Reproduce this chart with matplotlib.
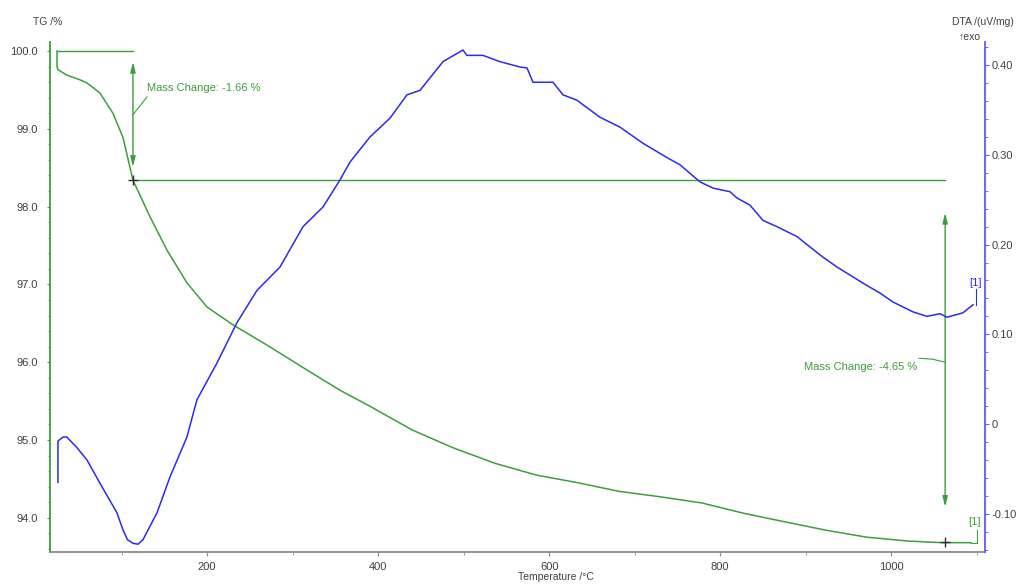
import matplotlib
matplotlib.use("Agg")
import matplotlib.pyplot as plt
from matplotlib.ticker import MultipleLocator, FuncFormatter

plt.rcParams["font.family"] = ["Liberation Sans", "DejaVu Sans"]

# TG curve (mass %, left axis)
tg_temp = [24.6, 24.6, 25.7, 36.2, 51.4, 59.6, 74.8, 90.0, 101.7, 113.4, 133.3, 153.2,
           176.5, 199.9, 230.3, 270.1, 316.8, 355.4, 391.1, 439.6, 487.6, 536.7, 584.6,
           633.7, 681.6, 729.6, 778.7, 826.6, 874.6, 923.7, 971.6, 1020.7, 1059.3, 1093.2]
tg_mass = [100.0, 99.80, 99.76, 99.69, 99.63, 99.59, 99.46, 99.20, 98.89, 98.34, 97.87, 97.44,
           97.02, 96.71, 96.48, 96.22, 95.90, 95.64, 95.43, 95.13, 94.90, 94.70, 94.55,
           94.45, 94.34, 94.27, 94.19, 94.06, 93.95, 93.84, 93.75, 93.70, 93.68, 93.68]

# DTA curve (uV/mg, right axis)
dta_temp = [25.7, 25.7, 31.6, 36.0, 47.6, 59.6, 74.8, 94.7, 101.7, 107.0, 113.4, 119.3, 125.1,
            141.5, 156.7, 176.5, 188.2, 211.6, 235.0, 258.4, 285.3, 312.2, 335.6, 355.4, 367.1,
            390.5, 413.9, 433.8, 449.0, 475.9, 499.2, 503.9, 522.6, 542.5, 565.9, 574.1, 581.1,
            604.5, 616.2, 632.5, 659.4, 682.8, 709.7, 737.8, 753.0, 776.3, 791.5, 811.4, 819.6,
            834.8, 850.0, 866.4, 889.8, 901.5, 920.2, 936.6, 955.3, 967.0, 986.8, 1002.0,
            1025.4, 1041.8, 1057.0, 1065.2, 1083.9, 1095.6]
dta_val = [-0.065, -0.019, -0.0145, -0.0145, -0.026, -0.040, -0.066, -0.099, -0.118, -0.129,
           -0.133, -0.134, -0.129, -0.099, -0.059, -0.0145, 0.027, 0.068, 0.113, 0.149, 0.175,
           0.220, 0.242, 0.272, 0.292, 0.320, 0.341, 0.367, 0.372, 0.404, 0.417, 0.411, 0.411,
           0.404, 0.398, 0.397, 0.381, 0.381, 0.367, 0.361, 0.342, 0.331, 0.313, 0.297, 0.289,
           0.270, 0.263, 0.259, 0.252, 0.244, 0.227, 0.220, 0.209, 0.200, 0.186, 0.175, 0.164,
           0.157, 0.146, 0.136, 0.125, 0.120, 0.123, 0.119, 0.124, 0.133]

# mass change steps
step1_temp = 113.4
step1_from, step1_to = 100.0, 98.34
step1_label = "Mass Change: -1.66 %"
step2_temp = 1063.0
step2_from, step2_to = 98.34, 93.69
step2_label = "Mass Change: -4.65 %"

GREEN = "#3c9e3c"
BLUE = "#2a2af0"
TXT = "#404040"

fig = plt.figure(figsize=(10.19, 5.84), dpi=100)
ax = fig.add_axes([50 / 1019, 32 / 584, 935 / 1019, 510 / 584])
ax2 = ax.twinx()

ax.plot(tg_temp, tg_mass, color=GREEN, lw=1.1, zorder=3)
ax2.plot(dta_temp, dta_val, color=BLUE, lw=1.1, zorder=3)

ax.set_xlim(16.4, 1109.6)
ax.set_ylim(93.56, 100.116)
ax2.set_ylim(-0.1427, 0.4259)

# spines
for s in ["top", "right"]:
    ax.spines[s].set_visible(False)
ax.spines["left"].set_color(GREEN)
ax.spines["left"].set_linewidth(1.3)
ax.spines["bottom"].set_color("#8a8a8a")
ax.spines["bottom"].set_linewidth(1.3)
for s in ["top", "left", "bottom"]:
    ax2.spines[s].set_visible(False)
ax2.spines["right"].set_color("#5a5aff")
ax2.spines["right"].set_linewidth(1.3)

# ticks
ax.xaxis.set_major_locator(MultipleLocator(200))
ax.xaxis.set_minor_locator(MultipleLocator(100))
ax.yaxis.set_major_locator(MultipleLocator(1.0))
ax.yaxis.set_minor_locator(MultipleLocator(0.2))
ax.yaxis.set_major_formatter(FuncFormatter(lambda v, p: f"{v:.1f}"))
ax.xaxis.set_major_formatter(FuncFormatter(lambda v, p: f"{v:.0f}" if v > 100 else ""))
ax2.yaxis.set_major_locator(MultipleLocator(0.1))
ax2.yaxis.set_minor_locator(MultipleLocator(0.02))
ax2.yaxis.set_major_formatter(
    FuncFormatter(lambda v, p: "0" if abs(v) < 1e-9 else f"{v:.2f}"))

ax.tick_params(axis="y", which="major", length=2.5, color=GREEN, labelsize=8,
               labelcolor=TXT, pad=6)
ax.tick_params(axis="y", which="minor", length=1.8, color=GREEN)
ax.tick_params(axis="x", which="major", length=3, color="#8a8a8a", labelsize=8,
               labelcolor=TXT, pad=4)
ax.tick_params(axis="x", which="minor", length=2.2, color="#8a8a8a")
ax2.tick_params(axis="y", which="major", length=3, color="#5a5aff", labelsize=8,
                labelcolor=TXT, pad=2)
ax2.tick_params(axis="y", which="minor", length=1.8, color="#5a5aff")

# step 1 annotation
ax.plot([tg_temp[0], step1_temp], [step1_from, step1_from], color=GREEN, lw=1.0)
ax.annotate("", xy=(step1_temp, 98.51), xytext=(step1_temp, 99.86),
            arrowprops=dict(arrowstyle="<|-|>,head_length=0.6,head_width=0.15",
                            color=GREEN, lw=1.0, shrinkA=0, shrinkB=0))
ax.plot([step1_temp, step2_temp], [step1_to, step1_to], color=GREEN, lw=1.0)
ax.plot([step1_temp, 129.8], [99.18, 99.41], color=GREEN, lw=0.8)
ax.text(129.8, 99.52, step1_label, color=GREEN, fontsize=8, va="center", ha="left")

# step 2 annotation
ax.annotate("", xy=(step2_temp, 94.14), xytext=(step2_temp, 97.92),
            arrowprops=dict(arrowstyle="<|-|>,head_length=0.6,head_width=0.15",
                            color=GREEN, lw=1.0, shrinkA=0, shrinkB=0))
ax.plot([1032.4, 1047.6, step2_temp], [96.05, 96.04, 96.00], color=GREEN, lw=0.8)
ax.text(1030, 95.94, step2_label, color=GREEN, fontsize=8, va="center", ha="right")

# step markers
ax.plot([step1_temp, step2_temp], [step1_to, step2_to], marker="+", ls="none",
        color="#303030", ms=7, mew=1.0, zorder=4)

# curve end labels
ax.plot([tg_temp[-1], 1100, 1100], [93.676, 93.676, 93.84], color=GREEN, lw=0.8)
ax.text(1097, 93.95, "[1]", color=GREEN, fontsize=8, ha="center", va="center")
ax2.plot([1099, 1099], [0.133, 0.150], color=BLUE, lw=0.8)
ax2.text(1098, 0.157, "[1]", color=BLUE, fontsize=8, ha="center", va="center")

# axis titles
fig.text(48 / 1019, 1 - 22 / 584, "TG /%", fontsize=7.5, color=TXT, ha="center", va="center")
fig.text(983 / 1019, 1 - 22 / 584, "DTA /(uV/mg)", fontsize=7.5, color=TXT,
         ha="center", va="center")
fig.text(970 / 1019, 1 - 37 / 584, "\u2191exo", fontsize=7.5, color=TXT,
         ha="center", va="center")
fig.text(556 / 1019, 1 - 577 / 584, "Temperature /\u00b0C", fontsize=7.5, color=TXT,
         ha="center", va="center")

fig.savefig("out.png", dpi=100)
